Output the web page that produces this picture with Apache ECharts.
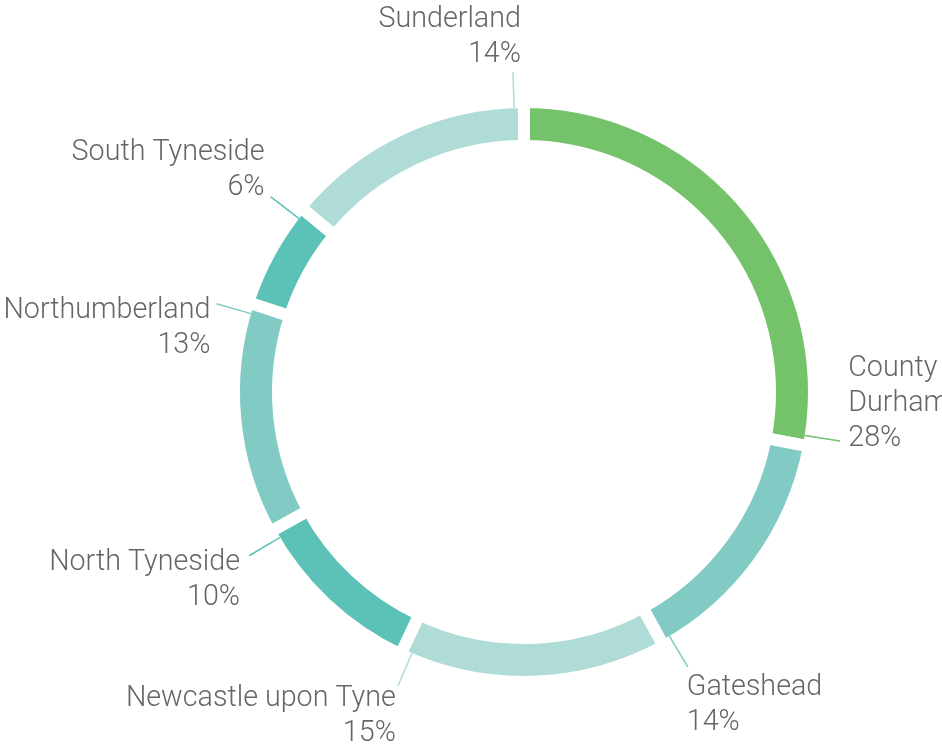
<!DOCTYPE html>
<html>
<head>
<meta charset="utf-8">
<title>North East share</title>
<script src="https://cdn.jsdelivr.net/npm/echarts@6/dist/echarts.min.js"></script>
<style>
  html, body { margin: 0; padding: 0; background: #fff; }
  #chart { width: 942px; height: 749px; }
</style>
</head>
<body>
<div id="chart"></div>
<script>
// 数据（顺时针，从正上方开始）
const regions = ['County Durham', 'Gateshead', 'Newcastle upon Tyne', 'North Tyneside', 'Northumberland', 'South Tyneside', 'Sunderland'];
const shares = [28, 14, 15, 10, 13, 6, 14];

// 样式
const colors = ['#74c26a', '#82cbc4', '#b0dcd8', '#5cc1b6', '#82cbc4', '#5cc1b6', '#b0dcd8'];
const labelVAlign = ['bottom', 'top', 'top', 'top', 'top', 'bottom', 'bottom'];
const labelDx = [2, -7, 4, -3, 0, 0, 14];
const labelDy = [15, 3, -5, -10, -10, 9, 0];
const TICK = 1.1; // 标签落在每段末端

const chart = echarts.init(document.getElementById('chart'));

// 圆环
const ringData = regions.map((name, i) => ({
  name,
  value: shares[i],
  itemStyle: { color: colors[i] }
}));

// 标签辅助序列：每段拆成主体 + 末端小片，小片上挂标签
const labelData = [];
regions.forEach((name, i) => {
  labelData.push({ name: '', value: shares[i] - TICK, label: { show: false }, labelLine: { show: false } });
  const item = { name, value: TICK, share: shares[i], labelLine: { lineStyle: { color: colors[i] } } };
  if (i === 0) item.label = { width: 125 }; // 右侧空间不够，折行
  labelData.push(item);
});

const option = {
  backgroundColor: '#fff',
  animation: false,
  series: [
    {
      type: 'pie',
      z: 1,
      center: [524, 392],
      radius: [246, 290],
      startAngle: 90,
      clockwise: true,
      silent: true,
      label: { show: false },
      labelLine: { show: false },
      itemStyle: { borderColor: '#fff', borderWidth: 12 },
      data: ringData
    },
    {
      type: 'pie',
      z: 3,
      center: [524, 392],
      radius: [246, 284],
      startAngle: 90,
      clockwise: true,
      silent: true,
      avoidLabelOverlap: false,
      itemStyle: { color: 'transparent' },
      label: {
        position: 'outside',
        formatter: p => p.name + '\n' + p.data.share + '%',
        fontFamily: 'Roboto, "Liberation Sans", Arial, sans-serif',
        fontWeight: 300,
        fontSize: 28.7,
        lineHeight: 35,
        color: '#666',
        overflow: 'break',
        bleedMargin: 0,
        distanceToLabelLine: 6
      },
      labelLine: {
        show: true,
        length: 36,
        length2: 0,
        smooth: false,
        lineStyle: { width: 1.5 }
      },
      labelLayout: params => {
        const idx = (params.dataIndex - 1) / 2;
        return { verticalAlign: labelVAlign[idx], dx: labelDx[idx], dy: labelDy[idx] };
      },
      data: labelData
    }
  ]
};

chart.setOption(option);
</script>
</body>
</html>
